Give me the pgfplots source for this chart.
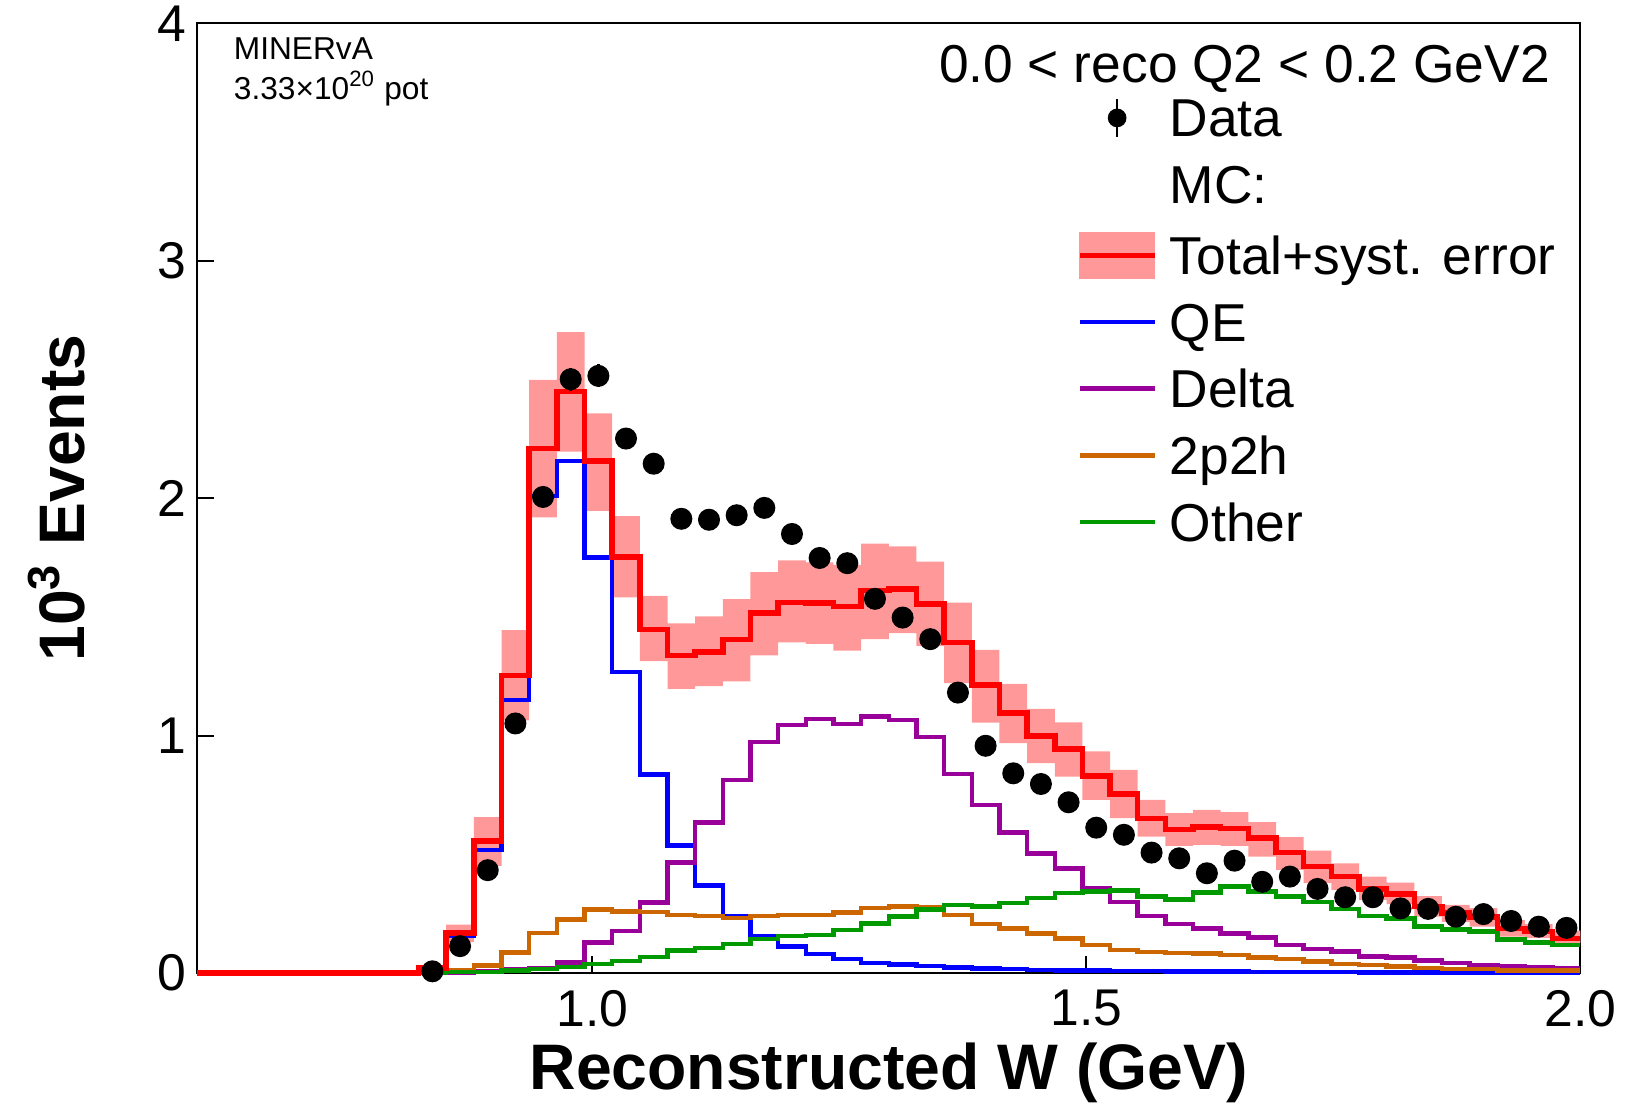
\documentclass[border=0pt]{standalone}
\usepackage{fontspec}
\setmainfont{Liberation Sans}
\usepackage{pgfplots}
\pgfplotsset{compat=1.18}
\usepackage{pgfplotstable}
\usepgfplotslibrary{fillbetween}

\definecolor{bandpink}{RGB}{255,153,153}
\definecolor{qeblue}{RGB}{0,0,255}
\definecolor{deltapurple}{RGB}{153,0,153}
\definecolor{twoporange}{RGB}{204,102,0}
\definecolor{othergreen}{RGB}{0,153,0}

\pgfplotstableread{
x     total  lo     hi     qe     delta  twop   other
0.600 0      0      0      0      0      0      0
0.824 0.020  0.010  0.030  0.015  0.000  0.003  0.002
0.852 0.168  0.130  0.204  0.155  0.002  0.012  0.004
0.880 0.555  0.451  0.656  0.519  0.007  0.031  0.005
0.908 1.254  1.064  1.444  1.150  0.014  0.086  0.010
0.936 2.209  1.919  2.498  2.010  0.020  0.168  0.016
0.964 2.449  2.196  2.699  2.156  0.044  0.226  0.025
0.992 2.156  1.946  2.357  1.750  0.128  0.268  0.037
1.020 1.752  1.582  1.924  1.268  0.177  0.259  0.051
1.048 1.447  1.314  1.588  0.835  0.296  0.256  0.068
1.076 1.338  1.197  1.473  0.537  0.466  0.245  0.095
1.104 1.352  1.208  1.502  0.369  0.634  0.241  0.106
1.132 1.405  1.228  1.575  0.241  0.813  0.232  0.123
1.160 1.517  1.338  1.688  0.155  0.972  0.241  0.143
1.188 1.560  1.392  1.738  0.111  1.045  0.244  0.155
1.216 1.558  1.386  1.729  0.080  1.069  0.244  0.160
1.244 1.544  1.358  1.719  0.058  1.049  0.254  0.181
1.272 1.611  1.406  1.808  0.043  1.080  0.273  0.209
1.300 1.617  1.431  1.797  0.036  1.066  0.279  0.237
1.328 1.555  1.378  1.733  0.029  0.993  0.277  0.268
1.356 1.392  1.221  1.560  0.024  0.839  0.244  0.287
1.384 1.214  1.055  1.361  0.019  0.708  0.206  0.279
1.412 1.094  0.968  1.218  0.016  0.591  0.188  0.294
1.440 0.999  0.884  1.112  0.013  0.504  0.167  0.315
1.468 0.943  0.827  1.056  0.011  0.441  0.146  0.336
1.496 0.830  0.729  0.933  0.010  0.357  0.118  0.343
1.524 0.754  0.652  0.855  0.009  0.300  0.097  0.347
1.552 0.650  0.574  0.729  0.008  0.240  0.088  0.322
1.580 0.605  0.535  0.673  0.007  0.206  0.085  0.310
1.608 0.614  0.540  0.687  0.006  0.188  0.082  0.340
1.636 0.608  0.535  0.677  0.006  0.167  0.076  0.364
1.664 0.568  0.490  0.635  0.005  0.150  0.066  0.343
1.692 0.507  0.434  0.572  0.005  0.118  0.058  0.322
1.720 0.448  0.378  0.515  0.004  0.100  0.048  0.300
1.748 0.406  0.350  0.462  0.004  0.090  0.038  0.270
1.776 0.353  0.308  0.406  0.003  0.069  0.034  0.240
1.804 0.333  0.290  0.381  0.003  0.065  0.027  0.230
1.832 0.279  0.237  0.324  0.003  0.052  0.020  0.195
1.860 0.252  0.215  0.287  0.002  0.041  0.016  0.184
1.888 0.235  0.195  0.273  0.002  0.034  0.016  0.174
1.916 0.188  0.153  0.223  0.002  0.029  0.010  0.142
1.944 0.174  0.148  0.206  0.002  0.023  0.010  0.128
1.972 0.146  0.127  0.178  0.002  0.019  0.010  0.117
2.000 0.146  0.127  0.178  0.002  0.019  0.010  0.117
}\mc

\pgfplotstableread{
x     y      e
0.838 0.007  0.005
0.866 0.113  0.012
0.894 0.433  0.020
0.922 1.051  0.030
0.950 2.005  0.045
0.978 2.501  0.048
1.006 2.515  0.048
1.034 2.251  0.046
1.062 2.145  0.045
1.090 1.913  0.042
1.118 1.909  0.042
1.146 1.928  0.042
1.174 1.959  0.043
1.202 1.849  0.041
1.230 1.748  0.040
1.258 1.726  0.040
1.286 1.576  0.038
1.314 1.497  0.037
1.342 1.406  0.036
1.370 1.181  0.033
1.398 0.957  0.030
1.426 0.841  0.028
1.454 0.796  0.027
1.482 0.719  0.026
1.510 0.612  0.024
1.538 0.582  0.023
1.566 0.507  0.022
1.594 0.483  0.021
1.622 0.420  0.020
1.650 0.473  0.020
1.678 0.384  0.019
1.706 0.406  0.019
1.734 0.354  0.018
1.762 0.319  0.017
1.790 0.319  0.017
1.818 0.272  0.016
1.846 0.270  0.016
1.874 0.237  0.015
1.902 0.248  0.015
1.930 0.219  0.014
1.958 0.195  0.013
1.986 0.190  0.013
}\data

\begin{document}
\begin{tikzpicture}
\begin{axis}[
  at={(0pt,0pt)}, anchor=south west,
  scale only axis, width=414.9pt, height=284.9pt,
  xmin=0.6, xmax=2.0, ymin=0, ymax=4,
  clip=false,
  axis line style={line width=0.7pt, black},
  xtick={1.0,1.5,2.0}, xticklabels={1.0,1.5,2.0},
  ytick={0,1,2,3,4}, yticklabels={0,1,2,3,4},
  minor tick num=0,
  tick pos=left,
  tick align=inside, major tick length=5pt,
  tick style={black, line width=0.6pt},
  tick label style={font=\fontsize{15.5}{18}\selectfont},
  xticklabel style={anchor=north, inner sep=0pt, yshift=-5pt},
  yticklabel style={anchor=east, inner sep=0pt, xshift=-3pt},
  xlabel={Reconstructed W (GeV)},
  ylabel={10\textsuperscript{3} Events},
  label style={font=\bfseries\fontsize{19.3}{22}\selectfont},
  xlabel style={at={(axis description cs:0.5,-0.105)}, anchor=center},
  ylabel style={at={(axis description cs:-0.1015,0.5)}, anchor=center},
  legend cell align=left,
  legend style={at={(axis cs:1.4900,3.69)}, anchor=north west, draw=none, fill=none,
    inner sep=0pt, row sep=5pt, column sep=0pt,
    font=\fontsize{16}{19}\selectfont,
    nodes={inner sep=0pt, text height=11.5pt, text depth=3.5pt}},
]
\addplot[name path=hi, draw=none, const plot, forget plot] table[x=x,y=hi]{\mc};
\addplot[name path=lo, draw=none, const plot, forget plot] table[x=x,y=lo]{\mc};
\addplot[fill=bandpink, draw=none, forget plot] fill between[of=hi and lo];
\addplot[qeblue, line width=1.35pt, const plot, forget plot] table[x=x,y=qe]{\mc};
\addplot[deltapurple, line width=1.35pt, const plot, forget plot] table[x=x,y=delta]{\mc};
\addplot[twoporange, line width=1.35pt, const plot, forget plot] table[x=x,y=twop]{\mc};
\addplot[othergreen, line width=1.35pt, const plot, forget plot] table[x=x,y=other]{\mc};
\addplot[red, line width=1.65pt, const plot, forget plot] table[x=x,y=total]{\mc};
\addplot[black, only marks, mark=*, mark size=3.1pt, forget plot,
  error bars/.cd, y dir=both, y explicit, error mark=none,
  error bar style={line width=0.8pt}] table[x=x,y=y,y error=e]{\data};

\addlegendimage{legend image code/.code={
  \path[draw=none, fill=none] (0pt,-7.5pt) rectangle (27pt,7.5pt);
  \draw[black, line width=0.8pt] (11.2pt,-4.0pt) -- (11.2pt,7.4pt);
  \fill[black] (11.2pt,1.7pt) circle (2.6pt);}}
\addlegendentry{Data}
\addlegendimage{legend image code/.code={\path[draw=none, fill=none] (0pt,-7.5pt) rectangle (27pt,7.5pt);}}
\addlegendentry{MC:}
\addlegendimage{legend image code/.code={
  \path[draw=none, fill=none] (0pt,-7.5pt) rectangle (27pt,7.5pt);
  \fill[bandpink] (0pt,-5.15pt) rectangle (22.5pt,8.55pt);
  \draw[red, line width=1.6pt] (0pt,1.7pt) -- (22.5pt,1.7pt);}}
\addlegendentry{Total+syst. error}
\addlegendimage{legend image code/.code={
  \path[draw=none, fill=none] (0pt,-7.5pt) rectangle (27pt,7.5pt);
  \draw[qeblue, line width=1.35pt] (0pt,1.7pt) -- (22.5pt,1.7pt);}}
\addlegendentry{QE}
\addlegendimage{legend image code/.code={
  \path[draw=none, fill=none] (0pt,-7.5pt) rectangle (27pt,7.5pt);
  \draw[deltapurple, line width=1.35pt] (0pt,1.7pt) -- (22.5pt,1.7pt);}}
\addlegendentry{Delta}
\addlegendimage{legend image code/.code={
  \path[draw=none, fill=none] (0pt,-7.5pt) rectangle (27pt,7.5pt);
  \draw[twoporange, line width=1.35pt] (0pt,1.7pt) -- (22.5pt,1.7pt);}}
\addlegendentry{2p2h}
\addlegendimage{legend image code/.code={
  \path[draw=none, fill=none] (0pt,-7.5pt) rectangle (27pt,7.5pt);
  \draw[othergreen, line width=1.35pt] (0pt,1.7pt) -- (22.5pt,1.7pt);}}
\addlegendentry{Other}

\node[anchor=base, inner sep=0pt, font=\fontsize{16}{19}\selectfont] at (axis cs:1.66,3.75) {0.0 < reco Q2 < 0.2 GeV2};
\node[anchor=base west, inner sep=0pt, font=\fontsize{9.5}{11.4}\selectfont] at (axis cs:0.6364,3.847) {MINERvA};
\node[anchor=base west, inner sep=0pt, font=\fontsize{9.5}{11.4}\selectfont] at (axis cs:0.6364,3.679) {3.33×10\textsuperscript{20} pot};
\end{axis}
\pgfresetboundingbox
\path[use as bounding box] (-59.19pt,-39.3pt) rectangle (429.21pt,291.9pt);
\end{tikzpicture}
\end{document}
